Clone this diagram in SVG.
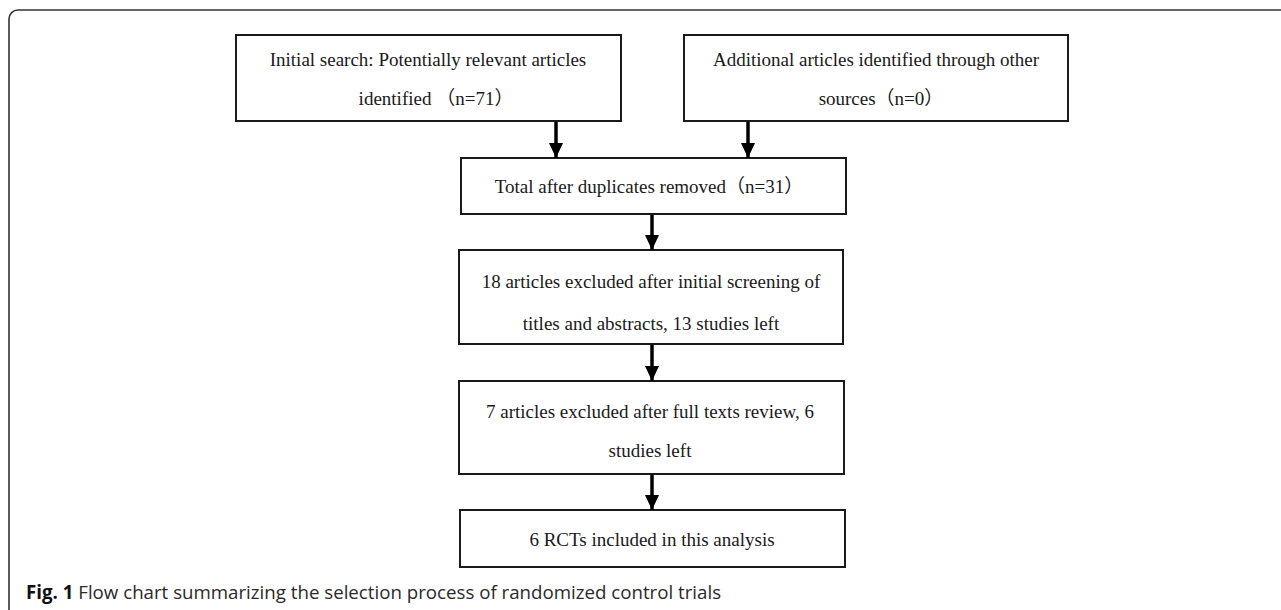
<svg xmlns="http://www.w3.org/2000/svg" width="1281" height="610" viewBox="0 0 1281 610">
<defs>
<style>
.box{fill:#fff;stroke:#1a1a1a;stroke-width:2}
.t{font-family:"Liberation Serif","Noto Sans CJK SC",serif;font-size:19px;fill:#1a1a1a;text-anchor:middle}
.conn{stroke:#000;stroke-width:3.5;fill:none}
.cap{font-family:"Open Sans",sans-serif;font-size:18.7px;fill:#2a2a2a}
</style>
<marker id="ah" markerUnits="userSpaceOnUse" markerWidth="16" markerHeight="16" viewBox="0 0 16 16" refX="15" refY="8" orient="auto">
<path d="M0,1 L15,8 L0,15 Z" fill="#000"/>
</marker>
</defs>
<rect width="1281" height="610" fill="#fff"/>
<path d="M1281,10 H18 A9,9 0 0 0 9,19 V610" fill="none" stroke="#333" stroke-width="1.6"/>
<g id="n1">
<rect class="box" x="236" y="35" width="385" height="86"/>
<text class="t" x="428" y="66">Initial search: Potentially relevant articles</text>
<text class="t" x="436" y="105">identified （n=71）</text>
</g>
<g id="n2">
<rect class="box" x="684" y="35" width="384" height="86"/>
<text class="t" x="876" y="66">Additional articles identified through other</text>
<text class="t" x="881" y="105">sources（n=0）</text>
</g>
<g id="n3">
<rect class="box" x="461" y="158" width="385" height="56"/>
<text class="t" x="649" y="193">Total after duplicates removed（n=31）</text>
</g>
<g id="n4">
<rect class="box" x="459" y="250" width="384" height="94"/>
<text class="t" x="651" y="288">18 articles excluded after initial screening of</text>
<text class="t" x="651" y="330">titles and abstracts, 13 studies left</text>
</g>
<g id="n5">
<rect class="box" x="459" y="381" width="385" height="93"/>
<text class="t" x="650" y="418">7 articles excluded after full texts review, 6</text>
<text class="t" x="650" y="457">studies left</text>
</g>
<g id="n6">
<rect class="box" x="460" y="510" width="385" height="57"/>
<text class="t" x="652" y="546">6 RCTs included in this analysis</text>
</g>
<g id="connectors">
<line class="conn" x1="556" y1="122" x2="556" y2="158" marker-end="url(#ah)"/>
<line class="conn" x1="748" y1="122" x2="748" y2="158" marker-end="url(#ah)"/>
<line class="conn" x1="652" y1="215" x2="652" y2="250" marker-end="url(#ah)"/>
<line class="conn" x1="652" y1="345" x2="652" y2="381" marker-end="url(#ah)"/>
<line class="conn" x1="652" y1="475" x2="652" y2="510" marker-end="url(#ah)"/>
</g>
<text class="cap" x="26" y="599"><tspan font-weight="bold" fill="#111">Fig. 1</tspan> Flow chart summarizing the selection process of randomized control trials</text>
</svg>
